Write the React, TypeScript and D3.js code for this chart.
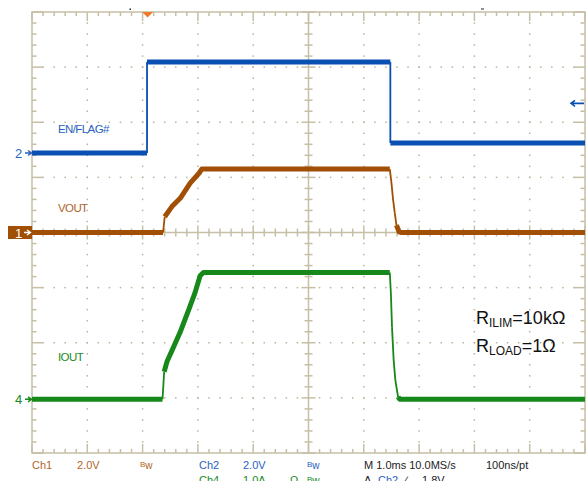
import React from "react";
import * as d3 from "d3";

// time in ms relative to screen centre (1.0 ms/div)
const enTime = [-5, -2.92, -2.92, 1.48, 1.48, 5];
const enVolt = [0, 0, 3.3, 3.3, 0.36, 0.36];

const voutTime = [-5, -2.63, -2.6, -2.47, -2.32, -2.14, -1.98, -1.93, 1.47, 1.5, 1.53, 1.56, 1.59, 1.64, 1.67, 5];
const voutVolt = [0, 0, 0.57, 0.94, 1.24, 1.79, 2.15, 2.3, 2.3, 1.8, 1.18, 0.71, 0.27, 0.02, 0, 0];

const ioutTime = [-5, -2.64, -2.61, -2.56, -2.44, -2.32, -2.16, -2.05, -1.96, -1.9, 1.47, 1.49, 1.51, 1.54, 1.57, 1.62, 1.65, 5];
const ioutAmp = [0, 0, 0.5, 0.68, 0.95, 1.22, 1.64, 1.94, 2.24, 2.3, 2.3, 1.92, 1.31, 0.71, 0.35, 0.04, 0, 0];

// channel settings: offset in divisions, units per division
const ch1 = { offset: 0, perDiv: 2.0 };
const ch2 = { offset: 1.443, perDiv: 2.0 };
const ch4 = { offset: -3.026, perDiv: 1.0 };
const trigLevel = 1.8; // V on Ch2

const BORDER = "#c6bfa6";
const DOT = "#b9b49e";
const BLUE = "#0a4fb2";
const BROWN = "#a24f06";
const GREEN = "#17891a";
const FONT = "'Liberation Sans', Arial, sans-serif";

const x = d3.scaleLinear().domain([-5, 5]).range([32, 585]);
const y = d3.scaleLinear().domain([-4, 4]).range([453, 12]);

function Trace({ t, v, ch, color }: { t: number[]; v: number[]; ch: { offset: number; perDiv: number }; color: string }) {
  const pts = t.map((tt, i) => [x(tt), y(v[i] / ch.perDiv + ch.offset)] as [number, number]);
  const thin: string[] = [];
  const runs: [number, number][][] = [];
  let cur: [number, number][] = [];
  for (let i = 1; i < pts.length; i++) {
    const [x0, y0] = pts[i - 1];
    const [x1, y1] = pts[i];
    // fast edges are drawn thin, slow parts with the noisy thick band
    const steep = Math.abs(y1 - y0) > 5 * Math.abs(x1 - x0);
    if (steep) {
      thin.push(`M${x0},${y0}L${x1},${y1}`);
      if (cur.length) runs.push(cur);
      cur = [];
    } else {
      if (!cur.length) cur.push(pts[i - 1]);
      cur.push(pts[i]);
    }
  }
  if (cur.length) runs.push(cur);
  const line = d3.line();
  return (
    <g>
      <path d={thin.join("")} stroke={color} strokeWidth={1.8} fill="none" />
      {runs.map((r, i) => (
        <path key={i} d={line(r) || ""} stroke={color} strokeWidth={5} fill="none" strokeLinejoin="round" />
      ))}
    </g>
  );
}

function Grid() {
  const minorX = d3.range(-5, 5.0001, 0.2);
  const minorY = d3.range(-4, 4.0001, 0.2);
  const majorX = d3.range(-4, 5, 1).filter((d) => d !== 0);
  const majorY = d3.range(-3, 4, 1).filter((d) => d !== 0);
  const dots: JSX.Element[] = [];
  majorX.forEach((mx) =>
    minorY.forEach((my, j) => {
      if (j === 0 || j === minorY.length - 1) return;
      dots.push(<rect key={`v${mx}-${j}`} x={x(mx) - 0.75} y={y(my) - 0.75} width={1.5} height={1.5} fill={DOT} />);
    })
  );
  majorY.forEach((my) =>
    minorX.forEach((mx, j) => {
      if (j === 0 || j === minorX.length - 1) return;
      dots.push(<rect key={`h${my}-${j}`} x={x(mx) - 0.75} y={y(my) - 0.75} width={1.5} height={1.5} fill={DOT} />);
    })
  );
  const isMajor = (d: number) => Math.abs(d - Math.round(d)) < 1e-6;
  const ticks: JSX.Element[] = [];
  minorX.forEach((d, i) => {
    const len = isMajor(d) ? 9 : 4;
    ticks.push(<line key={`tt${i}`} x1={x(d)} x2={x(d)} y1={12} y2={12 + len} />);
    ticks.push(<line key={`tb${i}`} x1={x(d)} x2={x(d)} y1={453} y2={453 - len} />);
    ticks.push(<line key={`tc${i}`} x1={x(d)} x2={x(d)} y1={y(0) - (isMajor(d) ? 7 : 4)} y2={y(0) + (isMajor(d) ? 7 : 4)} />);
  });
  minorY.forEach((d, i) => {
    const len = isMajor(d) ? 11 : 4.5;
    ticks.push(<line key={`tl${i}`} y1={y(d)} y2={y(d)} x1={32} x2={32 + len} />);
    ticks.push(<line key={`tr${i}`} y1={y(d)} y2={y(d)} x1={585} x2={585 - len} />);
    ticks.push(<line key={`tm${i}`} y1={y(d)} y2={y(d)} x1={x(0) - (isMajor(d) ? 7 : 4)} x2={x(0) + (isMajor(d) ? 7 : 4)} />);
  });
  return (
    <g>
      {dots}
      <g stroke={BORDER} strokeWidth={1.5}>
        {ticks}
        <line x1={32} x2={585} y1={y(0)} y2={y(0)} />
        <line x1={x(0)} x2={x(0)} y1={12} y2={453} />
        <rect x={32} y={12} width={553} height={441} fill="none" />
      </g>
    </g>
  );
}

function Bw({ x0, y0, color }: { x0: number; y0: number; color: string }) {
  return (
    <text x={x0} y={y0} fill={color}>
      <tspan fontSize={8} dy={-2}>B</tspan>
      <tspan fontSize={10} dy={2}>w</tspan>
    </text>
  );
}

export default function App() {
  const arrow = (yy: number, color: string, label: string) => (
    <g>
      <text x={15} y={yy + 5} fontSize={13} fill={color}>{label}</text>
      <path d={`M25,${yy}H31M28,${yy - 2.5}L31.5,${yy}L28,${yy + 2.5}`} stroke={color} strokeWidth={1.4} fill="none" />
    </g>
  );
  const yCh = (c: { offset: number }) => y(c.offset);
  const yTrig = y(ch2.offset + trigLevel / ch2.perDiv);
  return (
    <svg width={587} height={481} style={{ position: "fixed", left: 0, top: 0, background: "#fff" }} fontFamily={FONT}>
      <rect width={587} height={481} fill="#fff" />
      <Grid />
      <Trace t={enTime} v={enVolt} ch={ch2} color={BLUE} />
      <Trace t={voutTime} v={voutVolt} ch={ch1} color={BROWN} />
      <Trace t={ioutTime} v={ioutAmp} ch={ch4} color={GREEN} />

      {/* trigger position marker */}
      <path d={`M${x(-2.91) - 5.5},12L${x(-2.91) + 5.5},12L${x(-2.91)},17.5Z`} fill="#f07a2a" />
      <rect x={129.5} y={8.5} width={1.5} height={1.5} fill="#222" />
      <rect x={481} y={8.5} width={3} height={1} fill="#222" />

      {/* trigger level arrow on the right */}
      <path d={`M571,${yTrig}H584M575,${yTrig - 3}L571,${yTrig}L575,${yTrig + 3}`} stroke={BLUE} strokeWidth={1.6} fill="none" />

      {/* channel ground markers */}
      {arrow(yCh(ch2), "#2a62c0", "2")}
      {arrow(yCh(ch4), GREEN, "4")}
      <rect x={8} y={yCh(ch1) - 6.5} width={24} height={13} fill={BROWN} />
      <text x={15} y={yCh(ch1) + 5} fontSize={13} fill="#fff">1</text>
      <path d={`M24,${yCh(ch1)}H30M27,${yCh(ch1) - 2.5}L30.5,${yCh(ch1)}L27,${yCh(ch1) + 2.5}`} stroke="#fff" strokeWidth={1.3} fill="none" />

      {/* trace labels */}
      <text x={58} y={132.5} fontSize={11.5} letterSpacing={-0.6} fill="#2a62c0">EN/FLAG#</text>
      <text x={58} y={212} fontSize={11.5} letterSpacing={-0.6} fill="#b0652a">VOUT</text>
      <text x={58} y={361} fontSize={11.5} letterSpacing={-0.6} fill="#1c8c1c">IOUT</text>

      {/* annotation */}
      <text x={476} y={324} fontSize={18} fill="#111">
        R<tspan fontSize={12} dy={3}>ILIM</tspan><tspan dy={-3}>=10kΩ</tspan>
      </text>
      <text x={476} y={352} fontSize={18} fill="#111">
        R<tspan fontSize={12} dy={3}>LOAD</tspan><tspan dy={-3}>=1Ω</tspan>
      </text>

      {/* status bar (second row is cut by the bottom edge, as on the scope capture) */}
      <g fontSize={11}>
        <text x={32} y={469} fill="#b0652a">Ch1</text>
        <text x={77} y={469} fill="#b0652a">2.0V</text>
        <Bw x0={140} y0={469} color="#b0652a" />
        <text x={199} y={469} fill="#2a62c0">Ch2</text>
        <text x={243} y={469} fill="#2a62c0">2.0V</text>
        <Bw x0={307} y0={469} color="#2a62c0" />
        <text x={364} y={469} fill="#222">M 1.0ms 10.0MS/s</text>
        <text x={486} y={469} fill="#222">100ns/pt</text>

        <text x={199} y={484} fill={GREEN}>Ch4</text>
        <text x={243} y={484} fill={GREEN}>1.0A</text>
        <text x={290} y={484} fill={GREEN}>Ω</text>
        <Bw x0={307} y0={484} color={GREEN} />
        <text x={364} y={484} fill="#222">A</text>
        <text x={378} y={484} fill="#2a62c0">Ch2</text>
        <text x={405} y={484} fill="#222">∕</text>
        <text x={422} y={484} fill="#222">1.8V</text>
      </g>
    </svg>
  );
}
